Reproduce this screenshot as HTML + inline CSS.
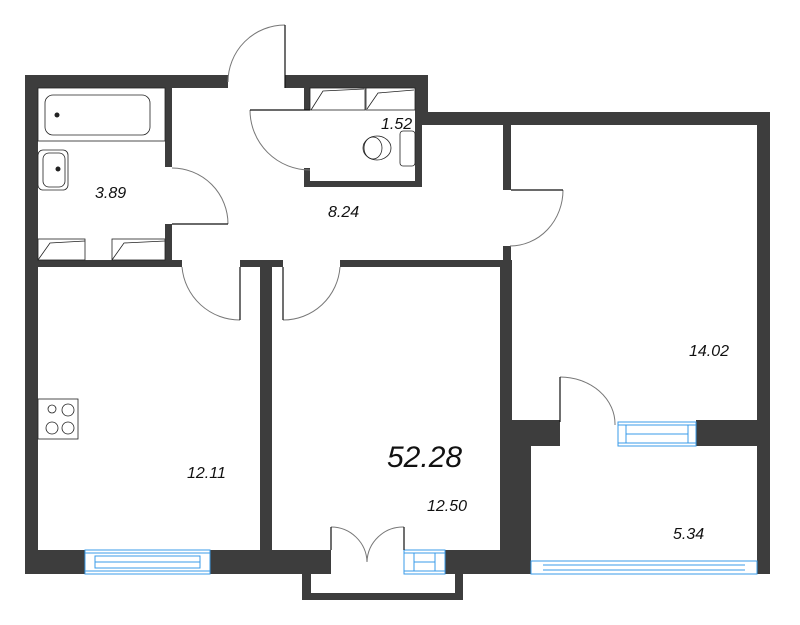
<!DOCTYPE html>
<html><head><style>html,body{margin:0;padding:0;background:#fff}svg{display:block}text{font-family:"Liberation Sans",sans-serif;font-style:italic;fill:#111}</style></head>
<body>
<svg width="800" height="625" viewBox="0 0 800 625" xmlns="http://www.w3.org/2000/svg">
<g fill="#3d3d3d">
<rect x="25" y="75" width="203" height="13"/>
<rect x="25" y="75" width="13" height="499"/>
<rect x="285" y="75" width="143" height="13"/>
<rect x="415" y="75" width="13" height="50"/>
<rect x="415" y="112" width="355" height="13"/>
<rect x="757" y="112" width="13" height="462"/>
<rect x="304" y="88" width="6" height="22"/>
<rect x="304" y="168" width="6" height="19"/>
<rect x="304" y="181" width="118" height="6"/>
<rect x="415" y="88" width="7" height="99"/>
<rect x="165" y="88" width="7" height="79"/>
<rect x="165" y="224" width="7" height="43"/>
<rect x="38" y="260" width="144" height="7"/>
<rect x="240" y="260" width="43" height="7"/>
<rect x="260" y="260" width="12" height="290"/>
<rect x="340" y="260" width="170" height="7"/>
<rect x="503" y="125" width="8" height="65"/>
<rect x="503" y="246" width="8" height="176"/>
<rect x="500" y="260" width="12" height="314"/>
<rect x="503" y="420" width="57" height="26"/>
<rect x="503" y="420" width="28" height="154"/>
<rect x="696" y="420" width="74" height="26"/>
<rect x="25" y="550" width="60" height="24"/>
<rect x="210" y="550" width="121" height="24"/>
<rect x="445" y="550" width="86" height="24"/>
<rect x="757" y="550" width="13" height="24"/>
<rect x="302" y="574" width="9" height="26"/>
<rect x="455" y="574" width="8" height="26"/>
<rect x="302" y="593" width="161" height="7"/>
</g>
<g fill="none" stroke="#3a9be8" stroke-width="1">
<rect x="85" y="550" width="125" height="24"/>
<line x1="85" y1="553" x2="210" y2="553"/><line x1="85" y1="571" x2="210" y2="571"/>
<rect x="95" y="556" width="105" height="12"/><line x1="95" y1="562" x2="200" y2="562"/>
<rect x="404" y="550" width="41" height="24"/>
<line x1="404" y1="553" x2="445" y2="553"/><line x1="404" y1="571" x2="445" y2="571"/>
<line x1="414" y1="553" x2="414" y2="571"/><line x1="435" y1="553" x2="435" y2="571"/><line x1="414" y1="562" x2="435" y2="562"/>
<rect x="618" y="422" width="78" height="24"/>
<line x1="618" y1="425" x2="696" y2="425"/><line x1="618" y1="443" x2="696" y2="443"/>
<line x1="626" y1="425" x2="626" y2="443"/><line x1="688" y1="425" x2="688" y2="443"/><line x1="626" y1="434" x2="688" y2="434"/>
<rect x="531" y="561" width="226" height="13"/>
<line x1="543" y1="565" x2="745" y2="565"/><line x1="543" y1="570" x2="745" y2="570"/>
</g>
<g fill="none" stroke="#777" stroke-width="1">
<path d="M228 82 A57 57 0 0 1 285 25"/>
<path d="M250 110 A60 60 0 0 0 310 170"/>
<path d="M172 168 A56 56 0 0 1 228 224"/>
<path d="M182 267 A58 58 0 0 0 240 320"/>
<path d="M340 267 A57 57 0 0 1 283 320"/>
<path d="M563 190 A53 56 0 0 1 510 246"/>
<path d="M560 377 A55 47 0 0 1 615 425"/>
<path d="M331 527 A36 36 0 0 1 367 562"/>
<path d="M404 527 A36 36 0 0 0 367 562"/>
</g>
<g stroke="#111" stroke-width="1.2" fill="none">
<line x1="285" y1="25" x2="285" y2="88"/>
<line x1="250" y1="110" x2="310" y2="110"/>
<line x1="172" y1="224" x2="228" y2="224"/>
<line x1="240" y1="267" x2="240" y2="320"/>
<line x1="283" y1="267" x2="283" y2="320"/>
<line x1="511" y1="190" x2="563" y2="190"/>
<line x1="560" y1="377" x2="560" y2="422"/>
<line x1="331" y1="527" x2="331" y2="550"/>
<line x1="404" y1="527" x2="404" y2="550"/>
</g>
<g fill="none" stroke="#222" stroke-width="0.8">
<rect x="38" y="88" width="127" height="53"/>
<rect x="45" y="95" width="105" height="40" rx="8"/>
<rect x="38" y="150" width="30" height="40" rx="5"/>
<rect x="43" y="153" width="22" height="34" rx="6"/>
<rect x="38" y="239" width="47" height="21"/><path d="M38 260 L50 243 L85 241"/>
<rect x="112" y="239" width="53" height="21"/><path d="M112 260 L124 243 L165 241"/>
<rect x="310" y="88" width="55" height="22"/><path d="M311 110 L323 91 L364 89"/>
<rect x="366" y="88" width="49" height="22"/><path d="M367 109 L378 93 L414 90"/>
<rect x="400" y="131" width="15" height="35" rx="3"/>
<ellipse cx="377" cy="148" rx="14" ry="12"/>
<ellipse cx="373" cy="148" rx="9" ry="11"/>
<rect x="38" y="399" width="40" height="40"/>
<circle cx="52" cy="409" r="4"/><circle cx="68" cy="410" r="6"/>
<circle cx="52" cy="428" r="6"/><circle cx="68" cy="428" r="6"/>
</g>
<g fill="#222"><circle cx="57" cy="115" r="2.5"/><circle cx="58" cy="169" r="2.5"/></g>
<text x="95" y="198" font-size="16">3.89</text>
<text x="328" y="217" font-size="16">8.24</text>
<text x="381" y="129" font-size="16">1.52</text>
<text x="689" y="356" font-size="16">14.02</text>
<text x="187" y="478" font-size="16">12.11</text>
<text x="387" y="467" font-size="30">52.28</text>
<text x="427" y="511" font-size="16">12.50</text>
<text x="673" y="539" font-size="16">5.34</text>
</svg>
</body></html>
